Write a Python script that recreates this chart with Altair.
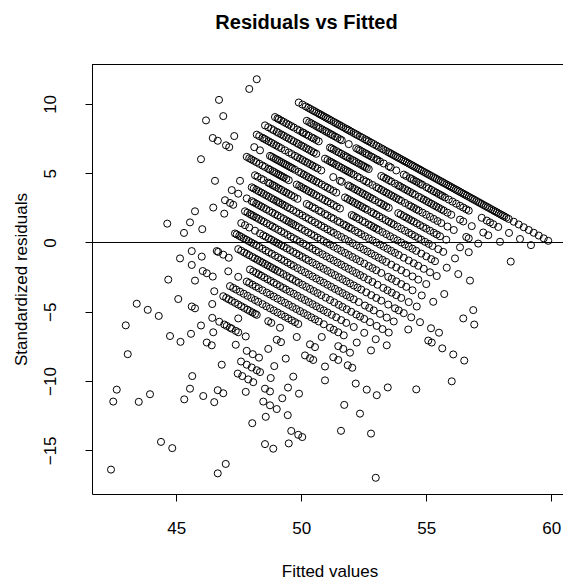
import altair as alt
import pandas as pd

# Fitted values of the observations, grouped by their observed (integer) response.
fit_60 = [48.22, 49.9, 50.05, 50.18, 50.28, 50.36, 50.45, 50.52, 50.6, 50.68, 50.75, 50.82, 50.9,
          50.98, 51.05, 51.12, 51.2, 51.3, 51.38, 51.45, 51.52, 51.6, 51.68, 51.78, 51.85, 51.92,
          52.0, 52.1, 52.18, 52.25, 52.35, 52.45, 52.55, 52.62, 52.7, 52.8, 52.9, 53.0, 53.1, 53.2,
          53.28, 53.38, 53.48, 53.55, 53.62, 53.7, 53.78, 53.85, 53.92, 54.0, 54.08, 54.15, 54.22,
          54.3, 54.38, 54.45, 54.52, 54.6, 54.68, 54.75, 54.82, 54.9, 54.98, 55.05, 55.12, 55.2,
          55.28, 55.35, 55.42, 55.5, 55.58, 55.65, 55.72, 55.8, 55.88, 55.95, 56.02, 56.1, 56.18,
          56.25, 56.32, 56.4, 56.48, 56.55, 56.62, 56.7, 56.78, 56.85, 56.92, 57.0, 57.08, 57.15,
          57.22, 57.3, 57.38, 57.45, 57.52, 57.6, 57.68, 57.75, 57.82, 57.9, 57.98, 58.05, 58.12,
          58.2, 58.3, 58.5, 58.7, 58.9, 59.1, 59.3, 59.5, 59.7, 59.88]
fit_59 = [47.92, 50.22, 50.32, 50.4, 50.5, 50.6, 50.68, 50.75, 50.85, 50.95, 51.02, 51.1, 51.18,
          51.25, 51.35, 51.45, 51.55, 51.62, 51.9, 52.2, 52.28, 52.35, 52.45, 52.55, 52.62, 52.7,
          52.8, 52.9, 53.0, 53.05, 53.15, 53.3, 53.5, 53.58, 53.8, 54.1, 54.2, 54.35, 54.42, 54.5,
          54.6, 54.7, 54.78, 54.85, 55.0, 55.1, 55.2, 55.3, 55.4, 55.5, 55.58, 55.65, 55.75, 55.9,
          56.05, 56.2, 56.35, 56.48, 56.6, 56.7, 57.22, 57.42, 57.55, 57.68, 57.88, 58.31, 58.75,
          59.19]
fit_58 = [48.95, 49.05, 49.1, 49.2, 49.3, 49.4, 49.5, 49.6, 49.7, 49.85, 49.95, 50.05, 50.1, 50.2,
          50.3, 50.42, 50.5, 50.6, 50.7, 51.15, 51.22, 51.3, 51.4, 51.5, 51.6, 51.7, 51.78, 51.85,
          51.95, 52.05, 52.12, 52.2, 52.3, 52.4, 52.48, 52.55, 52.62, 52.7, 53.2, 53.3, 53.4, 53.5,
          53.6, 53.75, 53.88, 53.95, 54.05, 54.15, 54.25, 54.35, 54.45, 54.55, 54.7, 54.8, 54.9,
          55.0, 55.1, 55.2, 55.3, 55.4, 55.5, 55.6, 55.7, 55.85, 56.0, 56.35, 56.48, 56.82, 57.28,
          57.48, 57.95]
fit_57 = [46.71, 48.55, 48.68, 48.8, 48.9, 49.02, 49.1, 49.2, 49.3, 49.4, 49.5, 49.6, 49.7, 49.82,
          49.9, 50.0, 50.1, 50.2, 50.3, 50.4, 50.5, 50.6, 50.95, 51.05, 51.15, 51.22, 51.3, 51.4,
          51.5, 51.6, 51.7, 51.78, 51.85, 51.92, 52.0, 52.1, 52.25, 52.35, 52.5, 52.6, 52.7, 52.85,
          53.0, 53.1, 53.2, 53.3, 53.4, 53.5, 53.6, 53.7, 53.8, 53.9, 54.0, 54.15, 54.3, 54.4, 54.5,
          54.6, 54.7, 54.85, 55.0, 55.15, 55.3, 55.45, 55.6, 55.85, 56.1, 56.6, 56.7, 57.08, 58.38]
fit_56 = [46.88, 48.22, 48.32, 48.45, 48.52, 48.6, 48.7, 48.8, 48.9, 49.0, 49.1, 49.2, 49.35, 49.5,
          49.62, 49.75, 49.85, 49.95, 50.05, 50.15, 50.25, 50.35, 50.45, 50.55, 50.65, 50.8, 51.28,
          51.55, 51.62, 51.88, 51.95, 52.05, 52.15, 52.25, 52.35, 52.45, 52.55, 52.65, 52.75, 52.85,
          52.95, 53.1, 53.2, 53.3, 53.4, 53.5, 53.88, 53.98, 54.1, 54.2, 54.3, 54.4, 54.5, 54.62,
          54.75, 54.88, 55.0, 55.15, 55.3, 55.42, 55.55, 55.8, 56.35, 56.7]
fit_55 = [46.19, 47.32, 48.12, 48.35, 48.75, 48.82, 48.9, 48.98, 49.05, 49.12, 49.2, 49.28, 49.35,
          49.42, 49.5, 49.58, 49.65, 49.75, 49.9, 50.0, 50.1, 50.2, 50.3, 50.4, 50.5, 50.6, 50.7,
          50.82, 50.95, 51.05, 51.15, 51.28, 51.4, 51.75, 51.85, 51.95, 52.05, 52.15, 52.25, 52.35,
          52.45, 52.55, 52.65, 52.8, 52.9, 53.0, 53.12, 53.25, 53.38, 53.5, 53.6, 53.7, 53.85, 54.0,
          54.15, 54.3, 54.42, 54.55, 54.68, 54.8, 54.95, 55.1, 55.25, 55.48, 55.68, 56.15]
fit_54 = [46.46, 46.66, 46.99, 47.12, 47.82, 47.92, 48.0, 48.1, 48.2, 48.32, 48.45, 48.55, 48.68,
          48.75, 48.85, 48.92, 49.0, 49.08, 49.15, 49.22, 49.3, 49.4, 49.5, 49.82, 49.92, 50.0, 50.1,
          50.2, 50.3, 50.4, 50.5, 50.6, 50.72, 50.85, 50.95, 51.05, 51.18, 51.3, 51.42, 51.55, 52.02,
          52.1, 52.2, 52.32, 52.45, 52.55, 52.7, 52.8, 52.9, 53.0, 53.1, 53.25, 53.4, 53.55, 53.7,
          53.85, 54.0, 54.15, 54.3, 54.45, 54.6, 54.8, 55.0, 55.2, 55.35, 55.82, 56.28, 56.75]
fit_53 = [48.15, 48.25, 48.4, 48.5, 48.68, 48.75, 48.85, 48.92, 49.0, 49.1, 49.2, 49.3, 49.4, 49.5,
          49.6, 49.72, 49.85, 50.22, 50.32, 50.45, 50.55, 50.7, 50.8, 50.95, 51.05, 51.2, 51.3, 51.45,
          51.55, 51.7, 51.8, 51.9, 52.0, 52.15, 52.28, 52.4, 52.55, 52.7, 52.85, 53.0, 53.15, 53.3,
          53.45, 53.6, 53.75, 53.9, 54.1, 54.3, 54.5, 54.68, 54.9, 55.15, 55.42]
fit_52 = [45.99, 47.55, 48.02, 48.1, 48.2, 48.3, 48.4, 48.5, 48.6, 48.7, 48.8, 48.9, 49.0, 49.08,
          49.15, 49.25, 49.35, 49.45, 49.55, 49.68, 49.8, 49.92, 50.05, 50.18, 50.3, 50.42, 50.55,
          50.68, 50.8, 50.92, 51.05, 51.18, 51.3, 51.45, 51.6, 51.75, 51.9, 52.05, 52.2, 52.35, 52.5,
          52.65, 52.8, 52.95, 53.1, 53.25, 53.4, 53.6, 53.8, 54.0, 54.2, 54.45, 54.68, 55.0, 55.72,
          56.88]
fit_51 = [46.55, 47.22, 47.48, 47.82, 48.02, 48.1, 48.2, 48.3, 48.4, 48.5, 48.6, 48.72, 48.85, 48.95,
          49.05, 49.18, 49.3, 49.4, 49.5, 49.6, 49.68, 49.78, 49.9, 50.02, 50.15, 50.28, 50.4, 50.52,
          50.65, 50.78, 50.9, 51.02, 51.15, 51.3, 51.45, 51.6, 51.75, 51.9, 52.05, 52.2, 52.35, 52.52,
          52.7, 52.85, 53.0, 53.2, 53.48, 53.62, 53.8, 54.0, 54.2, 54.45, 54.82, 55.28, 56.48, 56.92]
fit_50 = [46.95, 47.15, 47.28, 47.75, 47.85, 47.95, 48.02, 48.1, 48.2, 48.3, 48.4, 48.5, 48.62, 48.75,
          48.85, 48.95, 49.08, 49.2, 49.32, 49.45, 49.58, 49.7, 49.82, 49.95, 50.08, 50.2, 50.32,
          50.45, 50.58, 50.7, 50.85, 51.0, 51.15, 51.3, 51.45, 51.6, 51.75, 51.9, 52.05, 52.2, 52.35,
          52.5, 52.68, 52.85, 53.05, 53.28, 53.45, 53.62, 53.8, 54.0, 54.3, 54.62]
fit_49 = [46.48, 46.92, 47.6, 47.75, 47.92, 48.15, 48.35, 48.48, 48.58, 48.7, 48.8, 48.9, 49.0, 49.1,
          49.2, 49.3, 49.42, 49.55, 49.68, 49.8, 49.92, 50.05, 50.18, 50.3, 50.45, 50.6, 50.75, 50.9,
          51.05, 51.2, 51.35, 51.5, 51.65, 51.8, 51.95, 52.1, 52.25, 52.4, 52.6, 52.8, 53.0, 53.2,
          53.48, 53.75, 53.9, 54.1, 54.4, 54.75, 55.19, 55.51]
fit_48 = [45.75, 47.35, 47.42, 47.52, 47.6, 47.7, 47.8, 47.9, 48.0, 48.1, 48.2, 48.32, 48.45, 48.58,
          48.7, 48.82, 48.95, 49.08, 49.2, 49.32, 49.45, 49.58, 49.7, 49.85, 50.0, 50.15, 50.3, 50.45,
          50.6, 50.75, 50.9, 51.05, 51.2, 51.35, 51.5, 51.65, 51.8, 51.95, 52.1, 52.3, 52.55, 52.72,
          52.9, 53.15, 53.42, 53.7, 54.28, 55.08, 55.22, 55.64, 56.08, 56.52]
fit_47 = [45.55, 46.04, 47.48, 47.6, 47.72, 47.82, 47.92, 48.05, 48.15, 48.25, 48.35, 48.45, 48.55,
          48.65, 48.75, 48.85, 48.95, 49.05, 49.15, 49.28, 49.42, 49.55, 49.65, 49.78, 49.9, 50.05,
          50.2, 50.35, 50.5, 50.65, 50.8, 50.98, 51.15, 51.32, 51.5, 51.65, 51.82, 52.0, 52.2, 52.35,
          52.52, 52.75, 53.02, 53.25, 53.5]
fit_46 = [44.64, 45.31, 46.62, 46.68, 46.88, 47.1, 47.95, 48.08, 48.2, 48.3, 48.4, 48.52, 48.65,
          48.78, 48.9, 49.02, 49.15, 49.28, 49.4, 49.55, 49.7, 49.85, 50.0, 50.15, 50.3, 50.45, 50.6,
          50.75, 50.9, 51.05, 51.22, 51.4, 51.6, 51.8, 52.1, 52.52, 52.98, 53.42, 56.02]
fit_45 = [45.62, 46.02, 47.08, 47.48, 47.82, 47.92, 48.05, 48.18, 48.3, 48.45, 48.62, 48.75, 48.9,
          49.05, 49.2, 49.35, 49.5, 49.65, 49.8, 49.95, 50.1, 50.25, 50.4, 50.55, 50.7, 50.9, 51.15,
          51.3, 51.48, 51.7, 52.22, 52.79]
fit_44 = [45.15, 45.62, 46.06, 46.22, 46.46, 47.15, 47.28, 47.4, 47.55, 47.7, 47.85, 48.0, 48.15,
          48.28, 48.45, 48.6, 48.75, 48.9, 49.05, 49.2, 49.35, 49.48, 49.62, 49.75, 49.88, 50.82,
          51.48, 51.68, 51.95, 54.6]
fit_43 = [45.75, 46.52, 46.88, 47.0, 47.1, 47.22, 47.35, 47.48, 47.6, 47.72, 47.85, 47.95, 48.05,
          48.15, 48.22, 48.68, 48.8, 49.15, 49.82, 50.35, 50.55, 51.28, 51.48, 51.86, 52.04, 53.46]
fit_42 = [44.68, 46.44, 47.48, 49.02, 49.19, 50.15, 50.35, 50.48, 50.95, 52.18, 52.62, 53.02]
fit_41 = [45.08, 45.62, 45.75, 46.44, 46.72, 46.92, 47.02, 47.15, 47.22, 47.38, 47.48, 47.78, 48.68,
          49.38, 50.95]
fit_40 = [45.99, 46.48, 47.38, 47.82, 48.06, 48.31, 48.92, 49.68, 51.72, 52.35]
fit_39 = [43.42, 43.86, 44.3, 45.59, 46.22, 46.42, 47.59, 47.82, 48.02, 48.22, 48.35, 48.78, 49.47,
          49.91, 52.79]
fit_38 = [44.75, 45.17, 46.82, 47.46, 47.64, 47.88, 48.08, 48.55, 48.75, 49.24, 51.59]
fit_37 = [42.98, 47.78, 48.48, 48.75, 49.02, 49.46]
fit_36 = [45.64, 46.66, 46.88, 48.58, 49.6, 49.88, 50.04, 52.98]
fit_35 = [43.06, 45.55, 46.08, 46.52, 48.04, 49.5]
fit_34 = [45.32, 48.55, 48.88]
fit_33 = [43.95]
fit_32 = [42.62, 43.5]
fit_31 = [42.48, 46.98]
fit_30 = [44.39, 44.84, 46.66]
fit_26 = [42.39]

levels = [(60, fit_60), (59, fit_59), (58, fit_58), (57, fit_57), (56, fit_56), (55, fit_55),
          (54, fit_54), (53, fit_53), (52, fit_52), (51, fit_51), (50, fit_50), (49, fit_49),
          (48, fit_48), (47, fit_47), (46, fit_46), (45, fit_45), (44, fit_44), (43, fit_43),
          (42, fit_42), (41, fit_41), (40, fit_40), (39, fit_39), (38, fit_38), (37, fit_37),
          (36, fit_36), (35, fit_35), (34, fit_34), (33, fit_33), (32, fit_32), (31, fit_31),
          (30, fit_30), (26, fit_26)]

x_ticks = [45, 50, 55, 60]
y_ticks = [-15, -10, -5, 0, 5, 10]

rows = [{"fitted": f, "observed": obs} for obs, fits in levels for f in fits]
df = pd.DataFrame(rows)

FONT = "Liberation Sans"
W, H = 471, 430

x_scale = alt.Scale(domain=[41.63, 60.47], nice=False, zero=False)
y_scale = alt.Scale(domain=[-18.15, 12.88], nice=False, zero=False)

points = alt.Chart(df).transform_calculate(
    resid="datum.observed - datum.fitted"
).mark_point(
    shape="circle", filled=False, size=50, stroke="black", strokeWidth=1, opacity=1
).encode(
    x=alt.X("fitted:Q", scale=x_scale,
            axis=alt.Axis(values=x_ticks, format="d", grid=False, domain=True,
                          domainColor="black", domainWidth=1, tickColor="black", tickSize=7,
                          tickWidth=1, labelFont=FONT, labelFontSize=17, labelColor="black",
                          labelBaseline="alphabetic", labelPadding=32, labelFlush=False,
                          labelOverlap=False, title="Fitted values", titleFont=FONT,
                          titleFontSize=17, titleFontWeight="normal", titleColor="black",
                          titleX=237.5, titleY=82, titleAlign="center",
                          titleBaseline="alphabetic")),
    y=alt.Y("resid:Q", scale=y_scale,
            axis=alt.Axis(values=y_ticks, format="d", grid=False, domain=True,
                          domainColor="black", domainWidth=1, tickColor="black", tickSize=7,
                          tickWidth=1, labelFont=FONT, labelFontSize=17, labelColor="black",
                          labelAngle=270, labelAlign="center", labelBaseline="alphabetic",
                          labelPadding=30, labelFlush=False, labelOverlap=False,
                          title="Standardized residuals", titleFont=FONT, titleFontSize=17,
                          titleFontWeight="normal", titleColor="black", titleAngle=270,
                          titleX=-65.3, titleY=215, titleAlign="center",
                          titleBaseline="alphabetic")),
)

zero_rule = alt.Chart(pd.DataFrame({"level": [0]})).mark_rule(
    color="black", strokeWidth=1
).encode(y=alt.Y("level:Q", scale=y_scale))

top_frame = alt.Chart(pd.DataFrame({"level": [0]})).mark_rule(
    color="black", strokeWidth=1
).encode(y=alt.value(0.5))

chart = alt.layer(points, zero_rule, top_frame).properties(
    width=W, height=H,
    title=alt.TitleParams("Residuals vs Fitted", font=FONT, fontSize=20, fontWeight="bold",
                          color="black", anchor="middle", frame="group", baseline="alphabetic",
                          offset=15, dx=-21),
    padding={"left": 92, "top": 64, "right": 0, "bottom": 86},
    autosize=alt.AutoSizeParams(type="none"),
    background="white",
).configure_view(stroke=None)

chart.save("out.html", embed_options={"renderer": "svg", "actions": False})
